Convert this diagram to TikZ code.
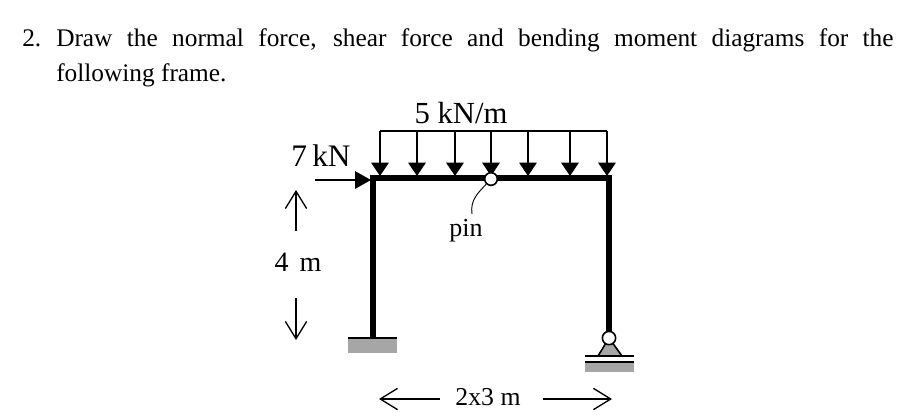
\documentclass[tikz,border=0pt]{standalone}
\usepackage{fontspec}
\setmainfont{Liberation Serif}
\usetikzlibrary{arrows.meta}
\tikzset{
  thinline/.style={line width=1.5pt},
  loadarrow/.style={line width=1.6pt,-{Triangle[length=10pt,width=13pt]}},
  forcearrow/.style={line width=1.6pt,-{Triangle[length=12pt,width=13pt]}},
  dimarrow/.style={line width=1pt,-{Straight Barb[length=13pt,width=16pt]}},
  hinge/.style={circle,draw=black,fill=white,line width=1.2pt,inner sep=0pt},
  ground/.style={fill=black!35,draw=none},
  bodytext/.style={inner sep=0pt,anchor=north west,font=\fontsize{19pt}{26.25pt}\selectfont}
}
\begin{document}
\begin{tikzpicture}[x=0.75pt,y=-0.75pt]
\useasboundingbox (0,0) rectangle (915,415);
\node[bodytext] (number) at (22,29.5) {2.};
\node[bodytext,text width=628pt,align=justify] (question) at (56,28) {Draw the normal force, shear force and bending moment diagrams for the\linebreak following frame.};
% supports first, the frame goes over them
\fill[ground] (348,338) rectangle (397,353);
\fill[ground] (585,362) rectangle (634,372);
\fill[ground] (598,356) -- (609,338) -- (622,356) -- cycle;
% frame
\coordinate (baseL) at (373,338);
\coordinate (cornerL) at (373,178);
\coordinate (cornerR) at (609,178);
\coordinate (baseR) at (609,338);
\draw[line width=3.9pt,line join=miter] (baseL) -- (cornerL) -- (cornerR) -- (baseR);
% support lines
\coordinate (wallA) at (348,338);
\coordinate (wallB) at (397,338);
\draw[thinline] (wallA) -- (wallB);
\coordinate (rollA) at (585,356);
\coordinate (rollB) at (634,356);
\coordinate (rollC) at (585,362);
\coordinate (rollD) at (634,362);
\draw[thinline] (rollA) -- (rollB);
\draw[thinline] (rollC) -- (rollD);
\coordinate (triA) at (598,356);
\coordinate (triB) at (622,356);
\draw[line width=1.2pt] (triA) -- (baseR) -- (triB);
\node[hinge,minimum size=10pt] (hingeR) at (baseR) {};
% distributed load
\coordinate (loadL) at (380,131);
\coordinate (loadR) at (607,131);
\draw[line width=1.2pt] (loadL) -- (loadR);
\foreach \x in {380,417,455,491,528,570,607}
  \draw[loadarrow] (\x,131) -- (\x,176);
\node[hinge,minimum size=9.5pt] (hingeM) at (491,179) {};
\node (loadlabel) at (461,113) {\fontsize{23pt}{23pt}\selectfont 5 kN/m};
% point load
\coordinate (forceA) at (315,180);
\coordinate (forceB) at (371,180);
\draw[forcearrow] (forceA) -- (forceB);
\node (forcelabel) at (321,156) {\fontsize{23.5pt}{24pt}\selectfont 7\,kN};
% pin label
\node (pinlabel) at (466,231) {\fontsize{19.5pt}{20pt}\selectfont pin};
\coordinate (pinend) at (472,214);
\draw[line width=0.7pt] (hingeM) .. controls (478,193) and (470,200) .. (pinend);
% dimensions
\node (heightlabel) at (298,262) {\fontsize{21pt}{21pt}\selectfont 4\hspace{0.4em}m};
\coordinate (upA) at (296,231);
\coordinate (upB) at (296,190);
\coordinate (downA) at (296,298);
\coordinate (downB) at (296,340);
\draw[dimarrow] (upA) -- (upB);
\draw[dimarrow] (downA) -- (downB);
\node (spanlabel) at (488,397) {\fontsize{19.3pt}{20pt}\selectfont 2x3 m};
\coordinate (leftA) at (440,399);
\coordinate (leftB) at (379,399);
\coordinate (rightA) at (543,399);
\coordinate (rightB) at (612,399);
\draw[dimarrow] (leftA) -- (leftB);
\draw[dimarrow] (rightA) -- (rightB);
\end{tikzpicture}
\end{document}
